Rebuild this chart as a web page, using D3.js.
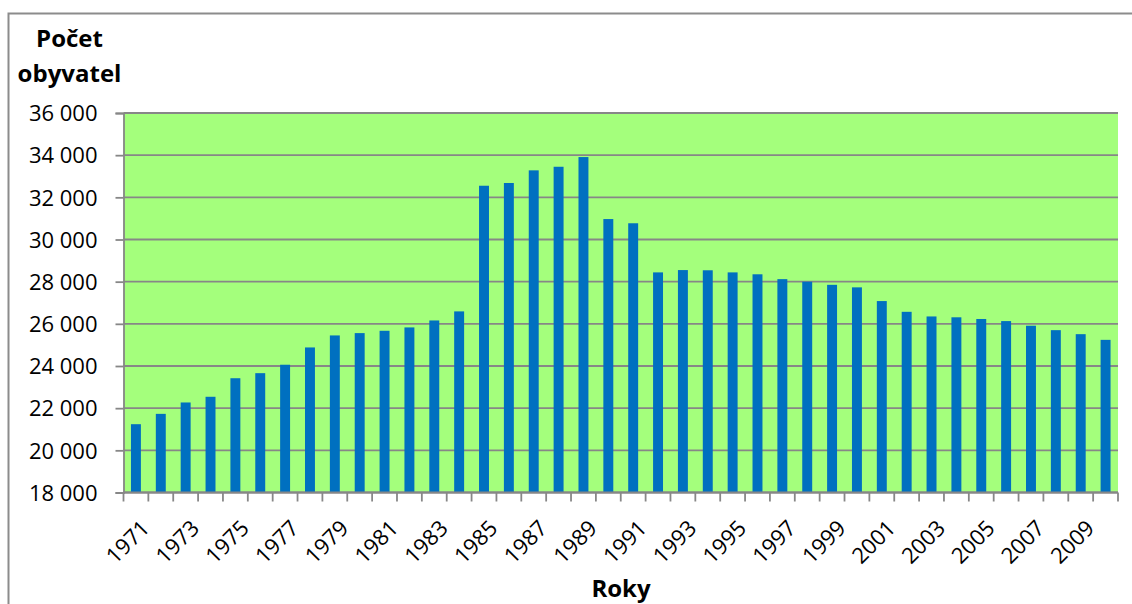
<!DOCTYPE html>
<html>
<head>
<meta charset="utf-8">
<script src="https://cdn.jsdelivr.net/npm/d3@7"></script>
<style>
  html, body { margin: 0; padding: 0; background: #fff; }
  svg text { font-family: "Open Sans", "Liberation Sans", sans-serif; fill: #000; }
</style>
</head>
<body>
<svg id="chart" width="1132" height="604"></svg>
<script>
// Population by year
const years = d3.range(1971, 2011).map(String);
const population = [
  21240, 21730, 22270, 22540, 23420, 23660, 24060, 24880, 25450, 25560,
  25670, 25830, 26160, 26590, 32550, 32680, 33280, 33450, 33910, 30970,
  30770, 28440, 28550, 28540, 28440, 28350, 28120, 28000, 27850, 27730,
  27080, 26570, 26350, 26310, 26230, 26130, 25910, 25700, 25510, 25240
];
const yTicks = [18000, 20000, 22000, 24000, 26000, 28000, 30000, 32000, 34000, 36000];
const yTitle = ["Počet", "obyvatel"];
const xTitle = "Roky";

const svg = d3.select("#chart");
const plot = { left: 123.5, right: 1118, top: 113, bottom: 492.5 };

// outer frame
svg.append("rect")
  .attr("x", 8.5).attr("y", 13.5)
  .attr("width", 1140).attr("height", 620)
  .attr("fill", "#fff").attr("stroke", "#8c8c8c").attr("stroke-width", 2);

const x = d3.scaleBand().domain(years).range([plot.left, plot.right]).paddingInner(0.6).paddingOuter(0.3);
const band = d3.scaleBand().domain(years).range([plot.left, plot.right]);
const y = d3.scaleLinear().domain([18000, 36000]).range([plot.bottom, plot.top]);

// plot background
svg.append("rect")
  .attr("x", plot.left).attr("y", plot.top)
  .attr("width", plot.right - plot.left).attr("height", plot.bottom - plot.top)
  .attr("fill", "#a4ff7c");

// horizontal gridlines
svg.append("g")
  .selectAll("line").data(yTicks).join("line")
  .attr("x1", plot.left).attr("x2", plot.right)
  .attr("y1", d => y(d)).attr("y2", d => y(d))
  .attr("stroke", "#878787").attr("stroke-width", 1.8);

// bars
svg.append("g")
  .selectAll("rect").data(population).join("rect")
  .attr("x", (d, i) => x(years[i]))
  .attr("width", x.bandwidth())
  .attr("y", d => y(d))
  .attr("height", d => plot.bottom - y(d))
  .attr("fill", "#0070c0");

// y axis
const yAxis = svg.append("g")
  .attr("transform", `translate(${plot.left},0)`)
  .call(d3.axisLeft(y).tickValues(yTicks).tickSize(8).tickPadding(18)
    .tickFormat(d => d3.format(",")(d).replace(",", " ")));
yAxis.select(".domain").attr("stroke", "#878787").attr("stroke-width", 1.8);
yAxis.selectAll(".tick line").attr("stroke", "#878787").attr("stroke-width", 1.8);
yAxis.selectAll(".tick text").attr("font-size", 22).attr("dy", "0.35em").attr("x", -26);

// x axis: ticks on band boundaries, labels every other year
const xAxis = svg.append("g").attr("transform", `translate(0,${plot.bottom})`);
xAxis.append("line")
  .attr("x1", plot.left).attr("x2", plot.right)
  .attr("stroke", "#878787").attr("stroke-width", 1.8);
xAxis.selectAll("line.tick").data(years.concat(["end"])).join("line")
  .attr("class", "tick")
  .attr("x1", (d, i) => plot.left + i * band.step())
  .attr("x2", (d, i) => plot.left + i * band.step())
  .attr("y1", 0).attr("y2", 9)
  .attr("stroke", "#878787").attr("stroke-width", 1.8);
xAxis.selectAll("text").data(years.filter((d, i) => i % 2 === 0)).join("text")
  .attr("font-size", 22)
  .attr("text-anchor", "end")
  .attr("transform", d => `translate(${band(d) + band.bandwidth() / 2 + 15},${37}) rotate(-45)`)
  .text(d => d);

// axis titles
svg.append("text")
  .attr("font-size", 24).attr("font-weight", "bold").attr("text-anchor", "middle")
  .selectAll("tspan").data(yTitle).join("tspan")
  .attr("x", 69.5).attr("y", (d, i) => 47 + i * 35)
  .text(d => d);

svg.append("text")
  .attr("x", 621).attr("y", 597)
  .attr("font-size", 24).attr("font-weight", "bold").attr("text-anchor", "middle")
  .text(xTitle);
</script>
</body>
</html>
